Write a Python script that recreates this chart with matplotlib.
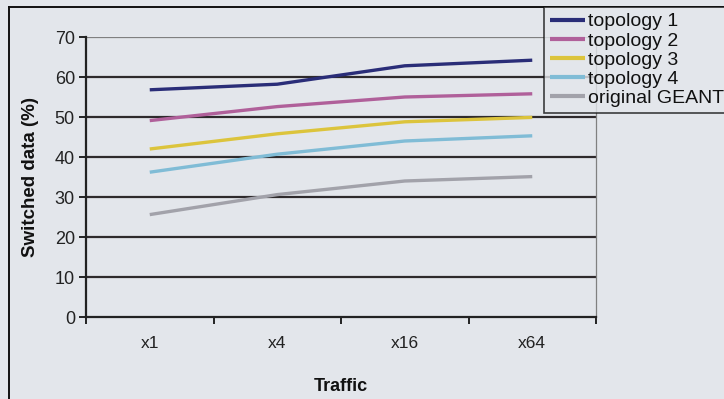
import matplotlib
matplotlib.use("Agg")
import matplotlib.pyplot as plt
from matplotlib.lines import Line2D

plt.rcParams['font.family'] = ['Liberation Sans', 'DejaVu Sans']

categories = ["x1", "x4", "x16", "x64"]
topology1 = [56.8, 58.2, 62.8, 64.2]
topology2 = [49.1, 52.6, 55.0, 55.8]
topology3 = [42.0, 45.8, 48.8, 49.9]
topology4 = [36.2, 40.7, 44.0, 45.3]
original_geant = [25.6, 30.6, 34.0, 35.1]
series_names = ["topology 1", "topology 2", "topology 3", "topology 4", "original GEANT"]
y_ticks = [0, 10, 20, 30, 40, 50, 60, 70]

colors = ["#2a2d78", "#b0609a", "#dcc43c", "#80bcd6", "#a2a2aa"]
bg = "#e3e6eb"

W, H = 724, 399
fig = plt.figure(figsize=(W / 100, H / 100), dpi=100, facecolor=bg)
ax = fig.add_axes([86 / W, 1 - 317 / H, (596 - 86) / W, (317 - 37) / H])
ax.set_facecolor(bg)

x = list(range(len(categories)))
ax.set_xlim(-0.5, len(categories) - 0.5)
ax.set_ylim(0, 70)

# gridlines
for yv in y_ticks[1:-1]:
    ax.axhline(yv, color="#2e2a2c", lw=1.6, zorder=1)
ax.axhline(70, color="#808080", lw=0.9, zorder=1)

all_series = [topology1, topology2, topology3, topology4, original_geant]
for vals, name, c in zip(all_series, series_names, colors):
    ax.plot(x, vals, color=c, lw=2.4, label=name, zorder=3, solid_capstyle="butt")

ax.spines["top"].set_visible(False)
ax.spines["right"].set_color("#808080")
ax.spines["right"].set_linewidth(0.9)
ax.spines["left"].set_color("#222222")
ax.spines["left"].set_linewidth(1.6)
ax.spines["bottom"].set_color("#222222")
ax.spines["bottom"].set_linewidth(1.6)

ax.set_yticks(y_ticks)
ax.set_yticklabels([str(v) for v in y_ticks], fontsize=13, color="#222222")
ax.tick_params(axis="y", direction="out", length=5, width=1.4, color="#222222", pad=3)

ax.set_xticks(x)
ax.set_xticklabels(categories, fontsize=12.5, color="#222222")
ax.set_xticks([i - 0.5 for i in range(len(categories) + 1)], minor=True)
ax.tick_params(axis="x", which="major", length=0, pad=14)
ax.tick_params(axis="x", which="minor", direction="out", length=5, width=1.4, color="#222222")

ax.set_xlabel("Traffic", fontsize=13, fontweight="bold", color="#111111", labelpad=19)
ax.set_ylabel("Switched data (%)", fontsize=13.5, fontweight="bold", color="#111111", labelpad=11)

# outer chart frame (partially cropped)
fig.add_artist(Line2D([9 / W, 9 / W], [0, 1 - 7 / H], transform=fig.transFigure, color="#111111", lw=1.4))
fig.add_artist(Line2D([9 / W, 1], [1 - 7 / H, 1 - 7 / H], transform=fig.transFigure, color="#111111", lw=1.4))

leg = fig.legend(loc="upper left", bbox_to_anchor=(544 / W, 1 - 7 / H), bbox_transform=fig.transFigure,
                 borderaxespad=0, fontsize=14, frameon=True, fancybox=False,
                 handlelength=1.8, handletextpad=0.15, borderpad=0.3, labelspacing=0.08)
leg.get_frame().set_edgecolor("#111111")
leg.get_frame().set_linewidth(1.2)
leg.get_frame().set_facecolor(bg)
for t in leg.get_texts():
    t.set_color("#111111")
for h in leg.legend_handles:
    h.set_linewidth(3.0)

fig.savefig("out.png", dpi=100, facecolor=bg)
